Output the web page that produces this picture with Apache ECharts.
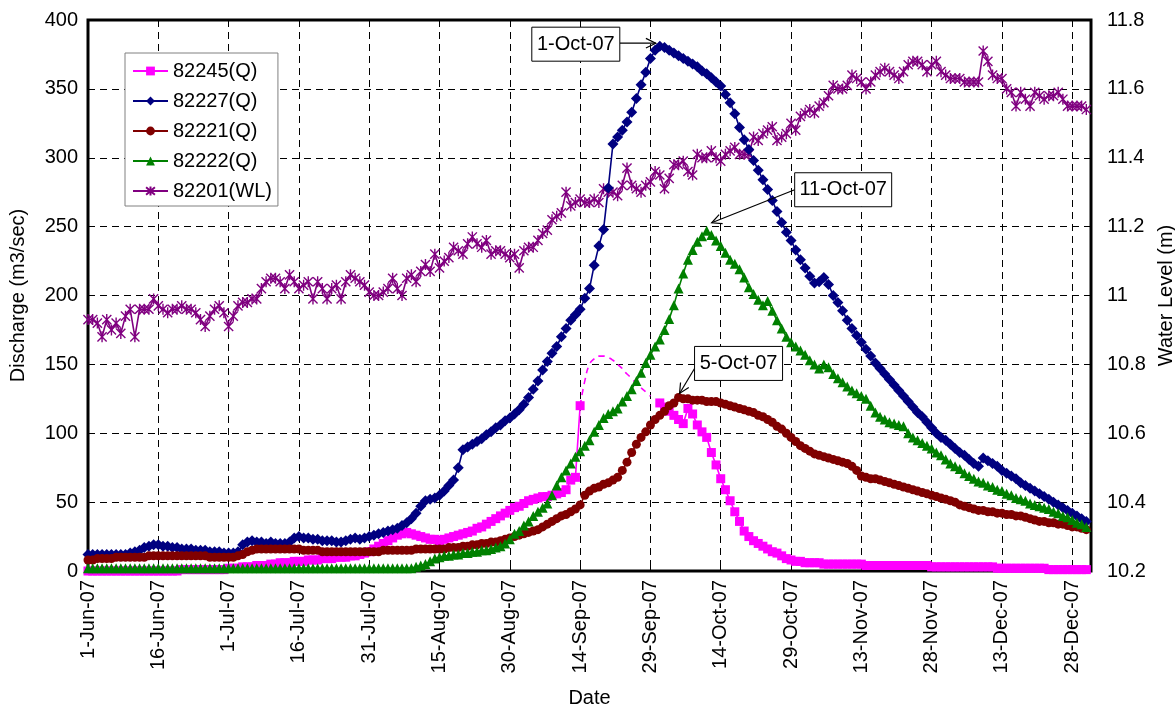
<!DOCTYPE html>
<html>
<head>
<meta charset="utf-8">
<title>Discharge and water level, Jun-Dec 2007</title>
<script src="https://cdn.jsdelivr.net/npm/echarts@6/dist/echarts.min.js"></script>
<style>
  html, body { margin: 0; padding: 0; background: #fff; }
  #chart { width: 1175px; height: 708px; }
</style>
</head>
<body>
<div id="chart"></div>
<script>
// Daily records starting 1-Jun-07 (index 0) through 31-Dec-07 (index 213).
const xTickLabels = ['1-Jun-07', '16-Jun-07', '1-Jul-07', '16-Jul-07', '31-Jul-07', '15-Aug-07',
  '30-Aug-07', '14-Sep-07', '29-Sep-07', '14-Oct-07', '29-Oct-07', '13-Nov-07', '28-Nov-07',
  '13-Dec-07', '28-Dec-07'];

const seriesNames = ['82245(Q)', '82227(Q)', '82221(Q)', '82222(Q)', '82201(WL)'];

// 82245 discharge (m3/sec); null where no record
const q82245 = [
  0,0,0,0,0,0,0,0,0,0, 0,0,0,0,0,0,0,0,0,0, 1,1,1,1,1,1,1,1,1,1,
  2,2,2,3,3,3,4,4,4,5, 5,6,6,6,7,7,7,8,8,8, 9,9,9,10,10,10,11,11,12,13, 14,
  16,18,20,22,24,26,27,28,27,26, 25,24,23,23,22,23,24,25,26,27, 28,29,31,32,34,36,38,40,42,44, 46,
  47,49,51,52,53,54,54,55,56,57, 59,66,68,120,null,null,null,null,null,null, null,null,null,null,null,null,null,null,null,null,
  122,119,116,113,110,107,118,114,106,101, 97,86,77,67,59,51,43,36,29,25, 22,20,18,16,14,13,11,9,8,7, 7,
  6,6,6,6,5,5,5,5,5,5, 5,5,5,4,4,4,4,4,4,4, 4,4,4,4,4,4,4,3,3,3,
  3,3,3,3,3,3,3,3,3,3, 3,2,2,2,2,2,2,2,2,2, 2,2,1,1,1,1,1,1,1,1, 1
];
// 82245 estimated hydrograph over the missing days (14-Sep-07 .. 29-Sep-07)
const q82245EstStart = 105;
const q82245Est = [120,138,150,154,156,156,155,153,150,147,143,140,136,133,130,127];

// 82227 discharge (m3/sec)
const q82227 = [
  12,12,12,12,12,12,12,12,12,13, 14,15,17,18,19,19,18,18,17,17, 16,16,16,15,15,15,14,14,14,13,
  13,13,14,19,21,22,21,21,20,21, 20,20,20,21,24,25,24,24,23,23, 22,22,22,21,21,22,23,24,23,24, 25,
  26,27,28,29,30,31,33,35,38,42, 47,51,52,53,55,58,62,66,75,88, 90,92,94,96,99,101,104,106,109,111, 114,
  117,121,126,132,138,146,152,158,163,170, 176,182,186,190,198,205,222,236,248,278, 310,315,320,326,333,343,353,362,372,378,
  381,380,378,376,374,372,370,368,366,363, 361,358,355,352,346,340,332,322,313,306, 298,291,284,277,269,261,253,246,240,233, 226,
  220,214,209,210,213,208,200,195,189,182, 176,171,166,161,156,151,147,143,139,135, 131,127,123,119,115,112,108,104,100,97,
  95,92,89,86,84,81,78,76,82,80, 78,76,73,71,69,67,64,62,60,58, 56,54,52,50,48,46,44,42,40,38, 36
];

// 82221 discharge (m3/sec)
const q82221 = [
  8,8,9,9,9,9,10,10,10,10, 10,10,10,11,11,11,11,11,11,11, 11,11,11,11,11,11,10,10,10,10,
  10,10,11,12,14,15,16,16,16,16, 16,16,16,16,16,16,15,15,15,15, 14,14,14,14,14,14,14,14,14,14, 14,
  14,14,15,15,15,15,15,15,15,16, 16,16,16,16,16,16,17,17,17,18, 18,19,19,20,20,21,21,22,23,24, 25,
  26,27,28,29,30,32,34,36,38,40, 41,43,45,48,55,58,60,61,63,64, 66,68,73,79,86,92,97,101,106,110,
  113,116,120,122,126,125,125,124,124,124, 123,123,123,122,121,120,119,118,117,116, 115,113,112,110,108,105,103,100,97,94, 91,
  89,87,85,84,83,82,81,80,79,78, 76,73,69,68,67,67,66,65,64,63, 62,61,60,59,58,57,56,55,54,53,
  52,51,50,48,47,46,45,44,44,43, 43,42,42,41,41,40,40,39,38,37, 36,36,35,35,34,34,33,32,32,31, 30
];

// 82222 discharge (m3/sec)
const q82222 = [
  2,2,2,2,2,2,2,2,2,2, 2,2,2,2,2,2,2,2,2,2, 2,2,2,2,2,2,2,2,2,2,
  2,2,2,2,2,2,2,2,2,2, 2,2,2,2,2,2,2,2,2,2, 2,2,2,2,2,2,2,2,2,2, 2,
  2,2,2,2,2,2,2,2,2,3, 4,5,7,9,10,11,11,12,12,13, 13,14,14,15,15,16,17,18,20,23, 27,
  29,33,36,40,43,46,49,55,62,68, 73,78,83,87,91,95,101,106,111,114, 116,118,123,127,132,138,144,151,157,163,
  168,175,183,193,205,216,226,233,239,243, 247,244,240,236,231,226,223,219,213,206, 201,197,193,196,189,182,176,170,166,163, 160,
  157,153,150,147,150,148,143,140,137,134, 131,129,127,125,120,115,112,110,108,107, 106,105,100,97,95,93,91,89,86,84,
  81,78,76,74,71,69,67,65,64,62, 61,59,58,56,55,53,52,51,49,48, 47,46,45,43,42,40,39,37,35,34, 32
];

// 82201 water level (m)
const wl82201 = [
  10.93,10.93,10.92,10.88,10.93,10.90,10.92,10.89,10.94,10.96, 10.88,10.96,10.96,10.96,10.99,10.97,10.96,10.95,10.96,10.96,
  10.97,10.96,10.96,10.95,10.93,10.91,10.94,10.96,10.97,10.95,
  10.91,10.94,10.97,10.98,10.98,10.99,10.99,11.02,11.04,11.05, 11.05,11.04,11.02,11.06,11.04,11.02,11.03,11.04,10.99,11.04,
  11.02,10.99,11.02,11.03,10.99,11.04,11.06,11.05,11.04,11.03, 11.01,
  11.00,11.00,11.01,11.02,11.05,11.02,11.00,11.05,11.06,11.04, 11.07,11.09,11.07,11.12,11.08,11.10,11.11,11.14,11.13,11.12,
  11.15,11.17,11.15,11.14,11.16,11.12,11.13,11.13,11.12,11.11, 11.12,
  11.08,11.13,11.14,11.14,11.16,11.18,11.19,11.22,11.23,11.24, 11.30,11.26,11.27,11.28,11.27,11.27,11.28,11.27,11.31,11.30,
  11.30,11.29,11.32,11.37,11.32,11.31,11.30,11.32,11.33,11.36,
  11.35,11.31,11.34,11.38,11.38,11.39,11.36,11.35,11.41,11.40, 11.40,11.42,11.40,11.39,11.41,11.42,11.43,11.41,11.41,11.41,
  11.46,11.45,11.47,11.48,11.49,11.45,11.46,11.47,11.50,11.48, 11.52,
  11.53,11.54,11.53,11.55,11.56,11.58,11.61,11.60,11.60,11.61, 11.64,11.63,11.62,11.60,11.62,11.64,11.65,11.66,11.65,11.64,
  11.63,11.65,11.67,11.68,11.68,11.67,11.65,11.67,11.68,11.65,
  11.64,11.63,11.63,11.63,11.62,11.62,11.62,11.62,11.71,11.68, 11.64,11.63,11.63,11.60,11.59,11.55,11.59,11.57,11.55,11.59,
  11.58,11.57,11.58,11.58,11.59,11.57,11.55,11.55,11.55,11.55, 11.54
];

// Peak call-outs: day index of each peak and the text shown
const peakDays = [122, 132, 126];
const peakTexts = ['1-Oct-07', '11-Oct-07', '5-Oct-07'];

const FONT = '"Liberation Sans", Arial, Helvetica, sans-serif';
const FS = 20;

const toPairs = (arr, offset) => arr.map((v, i) => [i + (offset || 0), v]);

const ASTERISK = 'path://M0,0L10,10M0,10L10,0M5,-1L5,11';

function lineSeries(name, data, color, symbol, size, yAxisIndex, extra) {
  return Object.assign({
    name: name,
    type: 'line',
    data: toPairs(data),
    yAxisIndex: yAxisIndex,
    symbol: symbol,
    symbolSize: size,
    showAllSymbol: true,
    clip: false,
    connectNulls: false,
    lineStyle: { color: color, width: 1.6 },
    itemStyle: { color: color, borderColor: color, borderWidth: 0 },
    emphasis: { disabled: true }
  }, extra || {});
}

const dashGrid = { type: [7, 5], color: '#000', width: 1 };

const chart = echarts.init(document.getElementById('chart'), null, { renderer: 'canvas' });

const option = {
  animation: false,
  backgroundColor: '#fff',
  textStyle: { fontFamily: FONT, color: '#000' },
  grid: {
    left: 88, right: 84, top: 20, bottom: 137,
    containLabel: false,
    outerBoundsMode: 'none',
    show: true, borderColor: '#000', borderWidth: 3, backgroundColor: 'transparent'
  },
  legend: {
    orient: 'vertical',
    left: 125, top: 53,
    data: seriesNames,
    itemWidth: 35, itemHeight: 11, itemGap: 8,
    padding: [7, 6, 4, 7],
    backgroundColor: '#fff',
    borderColor: '#808080', borderWidth: 1,
    textStyle: { fontSize: FS, fontFamily: FONT, color: '#000', lineHeight: 22 },
    selectedMode: false
  },
  xAxis: {
    type: 'value', min: 0, max: 214, interval: 15,
    name: 'Date', nameLocation: 'middle', nameGap: 117,
    nameTextStyle: { fontSize: FS, fontFamily: FONT, color: '#000' },
    axisLine: { show: false },
    axisTick: { show: true, inside: true, length: 5, lineStyle: { color: '#000' } },
    axisLabel: {
      rotate: 90, margin: 9, fontSize: FS, fontFamily: FONT, color: '#000',
      showMaxLabel: false,
      formatter: function (v) {
        const k = v / 15;
        return Number.isInteger(k) && xTickLabels[k] ? xTickLabels[k] : '';
      }
    },
    splitLine: { show: true, lineStyle: dashGrid }
  },
  yAxis: [
    {
      type: 'value', min: 0, max: 400, interval: 50, position: 'left',
      name: 'Discharge (m3/sec)', nameLocation: 'middle', nameGap: 60, nameRotate: 90,
      nameTextStyle: { fontSize: FS, fontFamily: FONT, color: '#000' },
      axisLine: { show: false },
      axisTick: { show: true, inside: true, length: 5, lineStyle: { color: '#000' } },
      axisLabel: { margin: 10, fontSize: FS, fontFamily: FONT, color: '#000' },
      splitLine: { show: true, lineStyle: dashGrid }
    },
    {
      type: 'value', min: 10.2, max: 11.8, interval: 0.2, position: 'right',
      name: 'Water Level (m)', nameLocation: 'middle', nameGap: 58, nameRotate: 90,
      nameTextStyle: { fontSize: FS, fontFamily: FONT, color: '#000' },
      axisLine: { show: false },
      axisTick: { show: true, inside: true, length: 5, lineStyle: { color: '#000' } },
      axisLabel: {
        margin: 16, fontSize: FS, fontFamily: FONT, color: '#000',
        formatter: function (v) { return String(parseFloat(v.toFixed(1))); }
      },
      splitLine: { show: false }
    }
  ],
  series: [
    lineSeries('82201(WL)', wl82201, '#800080', ASTERISK, 11, 1, {
      itemStyle: { color: '#800080', borderColor: '#800080', borderWidth: 1.4 },
      symbolKeepAspect: true
    }),
    lineSeries('82245(Q)', q82245, '#FF00FF', 'rect', 9, 0),
    {
      name: '82245(Q) estimate',
      type: 'line',
      data: toPairs(q82245Est, q82245EstStart),
      yAxisIndex: 0,
      symbol: 'none',
      smooth: 0.5,
      clip: false,
      lineStyle: { color: '#FF00FF', width: 1.6, type: [6, 5] },
      emphasis: { disabled: true }
    },
    lineSeries('82227(Q)', q82227, '#000080', 'diamond', 11, 0),
    lineSeries('82221(Q)', q82221, '#800000', 'circle', 9, 0),
    lineSeries('82222(Q)', q82222, '#008000', 'triangle', 10, 0)
  ]
};

chart.setOption(option);

// Call-out boxes with arrows pointing at the peaks
function drawCallouts() {
  const peakSeries = [q82227, q82222, q82221];
  // tip / tail offsets (px) from the peak point, and which side of the tail the box sits
  const layout = [
    { tip: [-4, -3], tail: [-40, -3], side: 'left', boxDy: 1 },
    { tip: [5, -8], tail: [88, -41], side: 'right', boxDy: 0 },
    { tip: [1, -4], tail: [16, -29], side: 'right', boxDy: -5 }
  ];
  const ctx = document.createElement('canvas').getContext('2d');
  ctx.font = FS + 'px ' + FONT;
  const els = [];
  peakDays.forEach(function (day, i) {
    const p = chart.convertToPixel({ xAxisIndex: 0, yAxisIndex: 0 }, [day, peakSeries[i][day]]);
    const L = layout[i];
    const tip = [p[0] + L.tip[0], p[1] + L.tip[1]];
    const tail = [p[0] + L.tail[0], p[1] + L.tail[1]];
    const ang = Math.atan2(tip[1] - tail[1], tip[0] - tail[0]);
    const ah = 11, spread = 0.45;
    const h1 = [tip[0] - ah * Math.cos(ang - spread), tip[1] - ah * Math.sin(ang - spread)];
    const h2 = [tip[0] - ah * Math.cos(ang + spread), tip[1] - ah * Math.sin(ang + spread)];
    els.push({ type: 'polyline', z: 100, shape: { points: [tail, tip] }, style: { stroke: '#000', lineWidth: 1.2, fill: null } });
    els.push({ type: 'polyline', z: 100, shape: { points: [h1, tip, h2] }, style: { stroke: '#000', lineWidth: 1.2, fill: null } });
    const tw = ctx.measureText(peakTexts[i]).width;
    const bw = Math.round(tw + 10), bh = 34;
    const bx = L.side === 'left' ? tail[0] - bw : tail[0];
    const by = tail[1] - bh / 2 + L.boxDy;
    els.push({ type: 'rect', z: 101, shape: { x: bx, y: by, width: bw, height: bh },
      style: { fill: '#fff', stroke: '#000', lineWidth: 1 } });
    els.push({ type: 'text', z: 102, style: {
      text: peakTexts[i], x: bx + bw / 2, y: by + bh / 2,
      font: FS + 'px ' + FONT, fill: '#000',
      align: 'center', verticalAlign: 'middle', textAlign: 'center', textVerticalAlign: 'middle'
    } });
  });
  chart.setOption({ graphic: els });
}
drawCallouts();
</script>
</body>
</html>
